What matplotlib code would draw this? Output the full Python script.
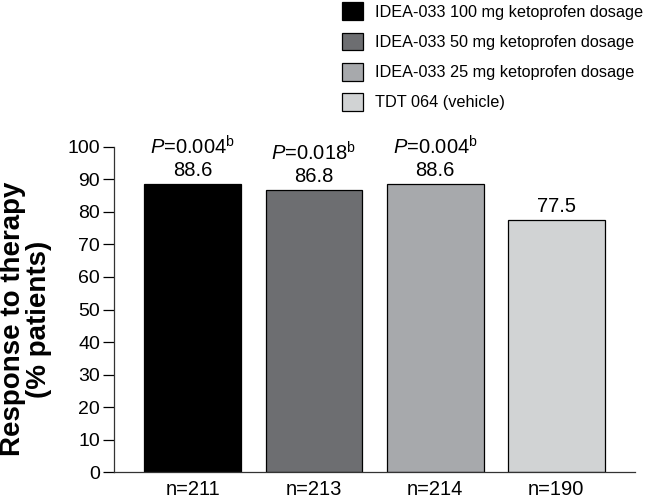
import matplotlib.pyplot as plt
from matplotlib.patches import Patch

plt.rcParams['font.family'] = ['Liberation Sans', 'DejaVu Sans']
plt.rcParams['mathtext.fontset'] = 'custom'
plt.rcParams['mathtext.rm'] = 'Liberation Sans'
plt.rcParams['mathtext.it'] = 'Liberation Sans:italic'

# data
groups = ['IDEA-033 100 mg ketoprofen dosage', 'IDEA-033 50 mg ketoprofen dosage',
          'IDEA-033 25 mg ketoprofen dosage', 'TDT 064 (vehicle)']
n_labels = ['n=211', 'n=213', 'n=214', 'n=190']
response = [88.6, 86.8, 88.6, 77.5]
pvalues = ['0.004', '0.018', '0.004', None]
colors = ['#000000', '#6d6e71', '#a7a9ac', '#d1d3d4']

fig = plt.figure(figsize=(6.52, 4.98), dpi=100)
ax = fig.add_axes([0.175, 0.052, 0.799, 0.653])

x = list(range(len(groups)))
ax.bar(x, response, width=0.8, color=colors, edgecolor='black', linewidth=0.9)

for xi, val, p in zip(x, response, pvalues):
    ax.annotate('{0:.1f}'.format(val), (xi, val), xytext=(0, 3), textcoords='offset points',
                ha='center', va='bottom', fontsize=14.5)
    if p is not None:
        ax.annotate(r'$\it{P}$=' + p + r'$^{\rm b}$', (xi, val), xytext=(0, 18),
                    textcoords='offset points', ha='center', va='bottom', fontsize=14.5)

ax.set_xlim(-0.65, 3.65)
ax.set_ylim(0, 100)
ax.set_yticks(range(0, 101, 10))
ax.set_xticks(x)
ax.set_xticklabels(n_labels)
ax.tick_params(axis='y', direction='out', length=8, width=0.9, labelsize=14, pad=2)
ax.tick_params(axis='x', length=0, labelsize=14.5, pad=6)
for s in ['top', 'right']:
    ax.spines[s].set_visible(False)
for s in ['left', 'bottom']:
    ax.spines[s].set_linewidth(0.9)
    ax.spines[s].set_color('#333333')

ax.set_ylabel('Response to therapy\n(% patients)', fontsize=20, fontweight='bold',
              linespacing=1.0)
ax.yaxis.set_label_coords(-0.119, 0.47)

handles = [Patch(facecolor=c, edgecolor='black', linewidth=0.9) for c in colors]
fig.legend(handles, groups, loc='upper left', bbox_to_anchor=(0.5245, 0.995), frameon=False,
           fontsize=11.7, handlelength=1.28, handleheight=1.3, labelspacing=0.77,
           handletextpad=0.75, borderaxespad=0, borderpad=0)

fig.savefig('out.png', dpi=100)
